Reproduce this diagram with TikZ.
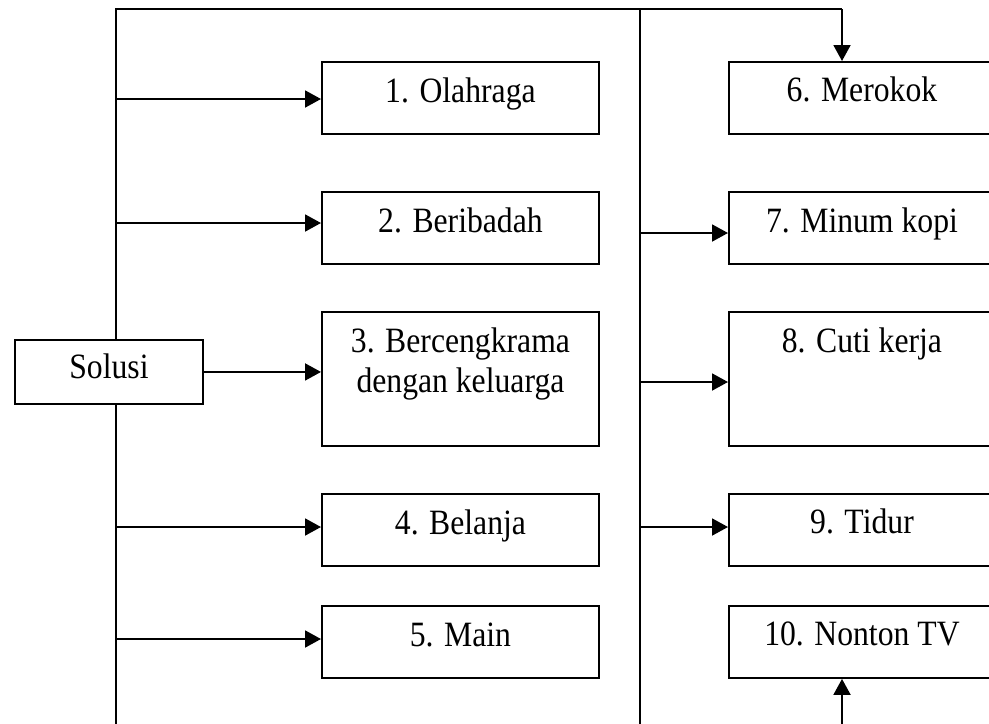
\documentclass[tikz,border=0pt]{standalone}
\usepackage{fontspec}
\setmainfont{Liberation Serif}[FakeStretch=0.89]
\usetikzlibrary{arrows.meta}
\begin{document}
\begin{tikzpicture}[x=0.5pt,y=-0.5pt,
  line width=0.95pt,
  boxbase/.style={draw, line width=0.95pt, fill=white, inner sep=0pt, anchor=north west},
  lbox/.style={boxbase, minimum width=138.5pt},
  rbox/.style={boxbase, minimum width=133pt},
  short/.style={minimum height=36pt},
  tall/.style={minimum height=67pt},
  txtfont/.style={font=\fontsize{17.8}{20}\selectfont},
  txt/.style={txtfont, anchor=base, inner sep=0pt, align=center},
  arr/.style={-{Triangle[length=8pt,width=8.5pt]}}]
\useasboundingbox (0,0) rectangle (989,723);
\clip (0,0) rectangle (989,723);

% trunk lines
\coordinate (topleft) at (116,9);
\coordinate (topright) at (842,9);
\coordinate (lbot) at (116,735);
\coordinate (midtop) at (640,9);
\coordinate (midbot) at (640,735);
\coordinate (rbot) at (842,735);
\draw (lbot) -- (topleft) -- (topright);
\draw (midtop) -- (midbot);

% left column
\node[lbox,short] (b1) at (321,61) {};
\node[lbox,short] (b2) at (321,191) {};
\node[lbox,tall]  (b3) at (321,311) {};
\node[lbox,short] (b4) at (321,493) {};
\node[lbox,short] (b5) at (321,605) {};
% right column
\node[rbox,short] (b6) at (728,61) {};
\node[rbox,short] (b7) at (728,191) {};
\node[rbox,tall]  (b8) at (728,311) {};
\node[rbox,short] (b9) at (728,493) {};
\node[rbox,short] (b10) at (728,605) {};
% root
\node[boxbase, minimum width=94pt, minimum height=32pt] (sol) at (14,339) {};
\node[txt] (t0) at ([yshift=-19.7pt]sol.north) {Solusi};

% labels
\node[txt] (t1) at ([yshift=-20.8pt]b1.north) {1. Olahraga};
\node[txt] (t2) at ([yshift=-20.5pt]b2.north) {2. Beribadah};
\node[txt] (t3) at ([yshift=-40.8pt]b3.north) {3. Bercengkrama\\dengan keluarga};
\node[txt] (t4) at ([yshift=-20.5pt]b4.north) {4. Belanja};
\node[txt] (t5) at ([yshift=-20.5pt]b5.north) {5. Main};
\node[txt] (t6) at ([yshift=-20.3pt]b6.north) {6. Merokok};
\node[txt] (t7) at ([yshift=-20.7pt]b7.north) {7. Minum kopi};
\node[txt] (t8) at ([yshift=-20.8pt]b8.north) {8. Cuti kerja};
\node[txt] (t9) at ([yshift=-20.3pt]b9.north) {9. Tidur};
\node[txt] (t10) at ([yshift=-20.3pt]b10.north) {10. Nonton TV};

% branch points
\coordinate (l1) at (116,99);
\coordinate (l2) at (116,223);
\coordinate (l4) at (116,527);
\coordinate (l5) at (116,639);
\coordinate (r7) at (640,233);
\coordinate (r8) at (640,382);
\coordinate (r9) at (640,527);

% arrows
\draw[arr] (l1) -- (l1 -| b1.west);
\draw[arr] (l2) -- (l2 -| b2.west);
\draw[arr] (sol.east) -- (sol.east -| b3.west);
\draw[arr] (l4) -- (l4 -| b4.west);
\draw[arr] (l5) -- (l5 -| b5.west);
\draw[arr] (topright) -- (topright |- b6.north);
\draw[arr] (r7) -- (r7 -| b7.west);
\draw[arr] (r8) -- (r8 -| b8.west);
\draw[arr] (r9) -- (r9 -| b9.west);
\draw[arr] (rbot) -- (rbot |- b10.south);
\end{tikzpicture}
\end{document}
